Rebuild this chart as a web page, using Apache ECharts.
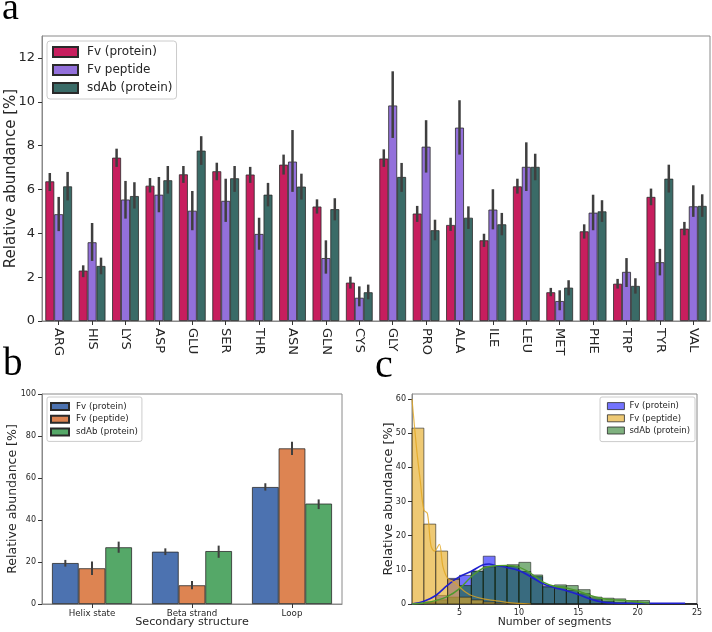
<!DOCTYPE html>
<html><head><meta charset="utf-8">
<script src="https://cdn.jsdelivr.net/npm/echarts@6/dist/echarts.min.js"></script>
<style>html,body{margin:0;padding:0;background:#fff}#chart{width:712px;height:632px}</style>
</head><body><div id="chart"></div>
<script>
// ---------- Panel a data ----------
const aminoAcids = ['ARG','HIS','LYS','ASP','GLU','SER','THR','ASN','GLN','CYS','GLY','PRO','ALA','ILE','LEU','MET','PHE','TRP','TYR','VAL'];
const fvProtein     = [6.37,2.30,7.45,6.17,6.69,6.83,6.68,7.13,5.22,1.75,7.41,4.90,4.38,3.68,6.14,1.31,4.09,1.70,5.66,4.21];
const fvProteinLow  = [5.93,2.00,7.03,5.86,6.30,6.42,6.30,6.68,4.90,1.48,7.03,4.52,4.11,3.38,5.81,1.13,3.76,1.48,5.28,3.91];
const fvProteinHigh = [6.75,2.54,7.86,6.52,7.07,7.22,7.03,7.59,5.55,2.02,7.83,5.25,4.71,3.98,6.49,1.51,4.41,1.92,6.04,4.52];
const fvPeptide     = [4.87,3.59,5.54,5.76,5.03,5.48,3.97,7.27,2.87,1.06,9.83,7.95,8.82,5.08,7.03,0.91,4.94,2.24,2.68,5.23];
const fvPeptideLow  = [4.10,2.74,4.67,4.96,4.14,4.52,3.25,5.89,2.16,0.67,8.35,6.77,7.59,4.18,5.93,0.49,4.14,1.55,2.08,4.75];
const fvPeptideHigh = [5.66,4.47,6.39,6.57,5.93,6.49,4.71,8.71,3.68,1.58,11.39,9.16,10.07,6.01,8.15,1.40,5.76,2.87,3.29,6.19];
const sdAbProtein     = [6.14,2.51,5.70,6.42,7.77,6.51,5.76,6.13,5.10,1.31,6.57,4.14,4.71,4.41,7.03,1.52,5.00,1.60,6.49,5.25];
const sdAbProteinLow  = [5.50,2.13,5.13,5.81,7.12,5.89,5.23,5.54,4.59,0.99,5.89,3.68,4.20,3.91,6.42,1.17,4.52,1.25,5.86,4.75];
const sdAbProteinHigh = [6.80,2.89,6.33,7.07,8.43,7.07,6.30,6.72,5.60,1.66,7.21,4.62,5.23,4.93,7.63,1.86,5.51,1.95,7.13,5.78];
const aYTicks = [0,2,4,6,8,10,12];

// ---------- Panel b data ----------
const structures = ['Helix state','Beta strand','Loop'];
const ssFvProtein     = [19.5,24.9,55.7];
const ssFvProteinLow  = [17.8,23.3,54.0];
const ssFvProteinHigh = [21.0,26.5,57.5];
const ssFvPeptide     = [17.0,8.9,74.1];
const ssFvPeptideLow  = [13.8,7.0,71.0];
const ssFvPeptideHigh = [20.2,11.0,77.3];
const ssSdAb     = [27.0,25.2,47.8];
const ssSdAbLow  = [24.4,22.0,45.2];
const ssSdAbHigh = [29.7,27.8,49.8];
const bYTicks = [0,20,40,60,80,100];

// ---------- Panel c data ----------
const segBinStarts = [1,2,3,4,5,6,7,8,9,10,11,12,13,14,15,16,17,18,19,20,21,22,23,24];
const segFvProtein = [0.2,0.6,2.5,7.5,8.4,9.6,14.0,11.2,11.0,9.5,8.0,5.3,5.0,4.0,3.0,1.5,0.8,0.4,0.3,0.3,0.1,0.1,0.1,0.1];
const segFvPeptide = [51.5,23.4,15.5,7.2,2.0,1.2,0.6,0.3,0.2,0.1,0,0,0,0,0,0,0,0,0,0,0,0,0,0];
const segSdAb      = [0,0.5,1.2,2.0,5.4,9.6,10.9,11.2,11.5,12.2,8.5,5.0,5.6,5.4,4.2,2.0,1.7,1.5,1.0,1.0,0,0,0,0];
const kdeFvProtein = [[1,0],[2,0.8],[3,2.5],[4,5.5],[5,8],[6,9.6],[7,11.5],[7.5,11.7],[8,11.3],[9,10.7],[10,9.8],[11,8],[12,6],[13,4.8],[14,3.9],[15,2.8],[16,1.5],[17,0.6],[18,0.3],[20,0.2],[22,0.2],[24,0.2]];
const kdeFvPeptide = [[1,60],[1.4,45],[1.7,36],[2,27.5],[2.3,26.5],[2.6,17],[2.9,15.5],[3.3,17.5],[3.6,11],[4,7.5],[4.5,6.5],[5,5],[5.5,3.5],[6,2.5],[7,1.5],[8,1],[9,0.5],[10,0.2],[11,0]];
const kdeSdAb = [[1,0],[2,0.3],[3,1],[4,2.2],[5,4.5],[6,8],[7,10.5],[8,11.2],[9,11.3],[10,10.8],[11,9],[12,6.5],[13,5.2],[14,4.7],[15,3.8],[16,2.5],[17,1.6],[18,1.2],[19,1],[20,0.6],[21,0.2]];
const cXTicks = [5,10,15,20,25];
const cYTicks = [0,10,20,30,40,50,60];

// ---------- styling ----------
const FONT = 'DejaVu Sans';
const TXT = '#262626';
const SPINE = '#8a8a8a';
const EDGE = '#2a2a2a';

function errSeries(xi, lows, highs, k, n, lw) {
  return {
    type: 'custom', xAxisIndex: xi, yAxisIndex: xi, z: 5, silent: true,
    data: lows.map((l, i) => [i, l, highs[i]]),
    encode: {x: 0, y: [1, 2]},
    renderItem: function (params, api) {
      const band = api.size([1, 0])[0];
      const w = band * 0.8 / n;
      const off = (k - (n - 1) / 2) * w;
      const p1 = api.coord([api.value(0), api.value(1)]);
      const p2 = api.coord([api.value(0), api.value(2)]);
      return {type: 'line', shape: {x1: p1[0] + off, y1: p1[1], x2: p2[0] + off, y2: p2[1]},
              style: {stroke: '#3f3f3f', lineWidth: lw}};
    }
  };
}
function barSeries(name, xi, data, color, bw) {
  return {type: 'bar', name: name, xAxisIndex: xi, yAxisIndex: xi, data: data,
    barGap: '0%', barCategoryGap: '20%', z: 2,
    itemStyle: {color: color, borderColor: EDGE, borderWidth: bw}};
}
function histSeries(name, starts, vals, color, z) {
  return {
    type: 'custom', name: name, xAxisIndex: 2, yAxisIndex: 2, z: z,
    itemStyle: {color: color, borderColor: EDGE},
    data: starts.map((s, i) => [s, s + 1, vals[i]]),
    encode: {x: [0, 1], y: 2},
    renderItem: function (params, api) {
      const p0 = api.coord([api.value(0), api.value(2)]);
      const p1 = api.coord([api.value(1), 0]);
      return {type: 'rect', shape: {x: p0[0], y: p0[1], width: p1[0] - p0[0], height: p1[1] - p0[1]},
              style: {fill: color, stroke: 'rgba(30,30,30,0.75)', lineWidth: 0.8}};
    }
  };
}
function kdeSeries(data, color, w) {
  return {type: 'line', xAxisIndex: 2, yAxisIndex: 2, data: data, showSymbol: false, smooth: 0.35, z: 8,
    silent: true, lineStyle: {color: color, width: w}};
}
const axisLine = {show: true, lineStyle: {color: SPINE, width: 1}};
const tick = {show: true, length: 4, lineStyle: {color: '#333'}};

const cBlue = 'rgba(0,0,255,0.55)';
const cYellow = 'rgba(228,168,30,0.62)';
const cGreen = 'rgba(0,100,0,0.5)';

const legendName = n => n.split('::')[1];

const option = {
  animation: false,
  backgroundColor: '#fff',
  textStyle: {fontFamily: FONT},
  grid: [
    {left: 42, top: 36, width: 668, height: 285, show: true, borderColor: SPINE, borderWidth: 1, outerBoundsMode: 'none'},
    {left: 42, top: 394, width: 300, height: 210, show: true, borderColor: SPINE, borderWidth: 1, outerBoundsMode: 'none'},
    {left: 412, top: 394, width: 285, height: 210, show: true, borderColor: SPINE, borderWidth: 1, outerBoundsMode: 'none'}
  ],
  xAxis: [
    {type: 'category', gridIndex: 0, data: aminoAcids, axisLine: axisLine,
     axisTick: Object.assign({alignWithLabel: true}, tick),
     axisLabel: {rotate: -90, fontSize: 13, color: TXT, margin: 7, fontFamily: FONT}},
    {type: 'category', gridIndex: 1, data: structures, axisLine: axisLine,
     axisTick: Object.assign({alignWithLabel: true}, tick),
     axisLabel: {fontSize: 8.7, color: TXT, margin: 5, fontFamily: FONT},
     name: 'Secondary structure', nameLocation: 'middle', nameGap: 13, nameMoveOverlap: false,
     nameTextStyle: {fontSize: 11.2, color: TXT, fontFamily: FONT}},
    {type: 'value', gridIndex: 2, min: 1, max: 25, axisLine: axisLine,
     axisTick: Object.assign({customValues: cXTicks}, tick),
     axisLabel: {customValues: cXTicks, fontSize: 8, color: TXT, margin: 5, fontFamily: FONT},
     splitLine: {show: false},
     name: 'Number of segments', nameLocation: 'middle', nameGap: 13, nameMoveOverlap: false,
     nameTextStyle: {fontSize: 10.8, color: TXT, fontFamily: FONT}}
  ],
  yAxis: [
    {type: 'value', gridIndex: 0, min: 0, max: 13, axisLine: axisLine,
     axisTick: Object.assign({customValues: aYTicks}, tick),
     axisLabel: {customValues: aYTicks, fontSize: 13, color: TXT, margin: 7, fontFamily: FONT},
     splitLine: {show: false},
     name: 'Relative abundance [%]', nameLocation: 'middle', nameRotate: 90, nameGap: 23, nameMoveOverlap: false,
     nameTextStyle: {fontSize: 15, color: TXT, fontFamily: FONT}},
    {type: 'value', gridIndex: 1, min: 0, max: 100, interval: 20, axisLine: axisLine, axisTick: tick,
     axisLabel: {fontSize: 8, color: TXT, margin: 6, fontFamily: FONT},
     splitLine: {show: false},
     name: 'Relative abundance [%]', nameLocation: 'middle', nameRotate: 90, nameGap: 23, nameMoveOverlap: false,
     nameTextStyle: {fontSize: 12.5, color: TXT, fontFamily: FONT}},
    {type: 'value', gridIndex: 2, min: 0, max: 61.5, axisLine: axisLine,
     axisTick: Object.assign({customValues: cYTicks}, tick),
     axisLabel: {customValues: cYTicks, fontSize: 8, color: TXT, margin: 6, fontFamily: FONT},
     splitLine: {show: false},
     name: 'Relative abundance [%]', nameLocation: 'middle', nameRotate: 90, nameGap: 17, nameMoveOverlap: false,
     nameTextStyle: {fontSize: 12.8, color: TXT, fontFamily: FONT}}
  ],
  legend: [
    {orient: 'vertical', left: 47, top: 41, padding: [2, 4, 2, 5], itemWidth: 25, itemHeight: 10, itemGap: 0,
     icon: 'rect', selectedMode: false, borderColor: '#cccccc', borderWidth: 1, borderRadius: 3,
     backgroundColor: 'rgba(255,255,255,0.8)', formatter: legendName,
     textStyle: {fontSize: 12, lineHeight: 18, color: TXT, fontFamily: FONT, padding: [0, 0, 0, 4]},
     data: ['a::Fv (protein)', 'a::Fv peptide', 'a::sdAb (protein)']},
    {orient: 'vertical', left: 47, top: 397, padding: [3, 4, 3, 3], itemWidth: 18, itemHeight: 7, itemGap: 0,
     icon: 'rect', selectedMode: false, borderColor: '#cccccc', borderWidth: 1, borderRadius: 2,
     backgroundColor: 'rgba(255,255,255,0.8)', formatter: legendName,
     textStyle: {fontSize: 8.7, lineHeight: 12.8, color: TXT, fontFamily: FONT, padding: [0, 0, 0, 2]},
     data: ['b::Fv (protein)', 'b::Fv (peptide)', 'b::sdAb (protein)']},
    {orient: 'vertical', right: 17, top: 397, padding: [3, 5, 5, 7], itemWidth: 17, itemHeight: 7, itemGap: 0,
     icon: 'rect', selectedMode: false, borderColor: '#cccccc', borderWidth: 1, borderRadius: 2,
     backgroundColor: 'rgba(255,255,255,0.8)', formatter: legendName,
     textStyle: {fontSize: 8.5, lineHeight: 12.2, color: TXT, fontFamily: FONT},
     data: [
       {name: 'c::Fv (protein)', itemStyle: {color: cBlue, borderColor: EDGE, borderWidth: 0.8}},
       {name: 'c::Fv (peptide)', itemStyle: {color: cYellow, borderColor: EDGE, borderWidth: 0.8}},
       {name: 'c::sdAb (protein)', itemStyle: {color: cGreen, borderColor: EDGE, borderWidth: 0.8}}]}
  ],
  graphic: [
    {type: 'text', left: 2, top: -10, style: {text: 'a', font: '38px "Liberation Serif"', fill: '#000'}},
    {type: 'text', left: 3, top: 345, style: {text: 'b', font: '39px "Liberation Serif"', fill: '#000'}},
    {type: 'text', left: 375, top: 346, style: {text: 'c', font: '40px "Liberation Serif"', fill: '#000'}}
  ],
  series: [
    barSeries('a::Fv (protein)', 0, fvProtein, '#C71E5E', 0.8),
    barSeries('a::Fv peptide', 0, fvPeptide, '#9370DB', 0.8),
    barSeries('a::sdAb (protein)', 0, sdAbProtein, '#3A6B67', 0.8),
    errSeries(0, fvProteinLow, fvProteinHigh, 0, 3, 2.5),
    errSeries(0, fvPeptideLow, fvPeptideHigh, 1, 3, 2.5),
    errSeries(0, sdAbProteinLow, sdAbProteinHigh, 2, 3, 2.5),
    barSeries('b::Fv (protein)', 1, ssFvProtein, '#4C72B0', 0.8),
    barSeries('b::Fv (peptide)', 1, ssFvPeptide, '#DD8452', 0.8),
    barSeries('b::sdAb (protein)', 1, ssSdAb, '#55A868', 0.8),
    errSeries(1, ssFvProteinLow, ssFvProteinHigh, 0, 3, 2),
    errSeries(1, ssFvPeptideLow, ssFvPeptideHigh, 1, 3, 2),
    errSeries(1, ssSdAbLow, ssSdAbHigh, 2, 3, 2),
    histSeries('c::Fv (protein)', segBinStarts, segFvProtein, cBlue, 2),
    histSeries('c::sdAb (protein)', segBinStarts, segSdAb, cGreen, 3),
    histSeries('c::Fv (peptide)', segBinStarts, segFvPeptide, cYellow, 4),
    kdeSeries(kdeFvProtein, '#1f1fd0', 1.6),
    kdeSeries(kdeSdAb, '#4f9a2e', 1.4),
    kdeSeries(kdeFvPeptide, 'rgba(225,165,30,0.8)', 1.2)
  ]
};
const chart = echarts.init(document.getElementById('chart'), null, {renderer: 'canvas'});
chart.setOption(option);
</script></body></html>
